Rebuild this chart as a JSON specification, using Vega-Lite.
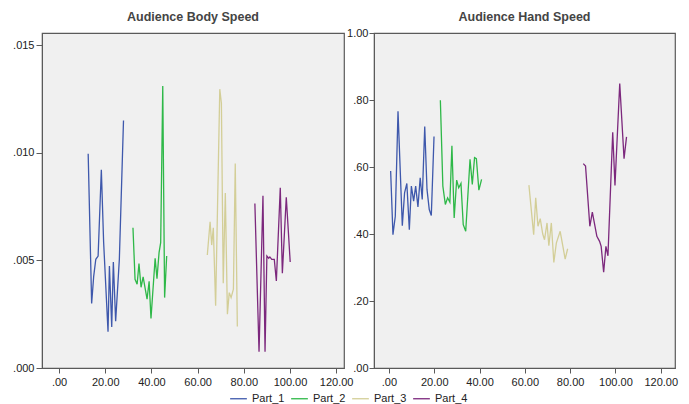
{
  "$schema": "https://vega.github.io/schema/vega-lite/v6.json",
  "padding": {"left": 3, "top": 9, "right": 5, "bottom": 0},
  "background": "white",
  "spacing": -9,
  "config": {
    "font": "Liberation Sans",
    "view": {"fill": "#f0f0f0", "stroke": "#5a5a5a", "strokeWidth": 1.2},
    "axis": {"grid": false, "labelFont": "Liberation Sans", "labelFontSize": 11, "labelColor": "#222", "domainColor": "#5a5a5a", "tickColor": "#5a5a5a", "title": null, "labelFlush": false, "labelOverlap": false},
    "title": {"font": "Liberation Sans", "fontSize": 12.5, "fontWeight": "bold", "color": "#444", "offset": 10},
    "line": {"strokeWidth": 1.3}
  },
  "data": {"values": [
    {"panel":"Body","part":"Part_1","t":12.6,"v":0.00995},
    {"panel":"Body","part":"Part_1","t":14.1,"v":0.0030},
    {"panel":"Body","part":"Part_1","t":15.0,"v":0.00427},
    {"panel":"Body","part":"Part_1","t":15.9,"v":0.00505},
    {"panel":"Body","part":"Part_1","t":16.9,"v":0.0052},
    {"panel":"Body","part":"Part_1","t":18.3,"v":0.00921},
    {"panel":"Body","part":"Part_1","t":19.3,"v":0.00583},
    {"panel":"Body","part":"Part_1","t":21.2,"v":0.00168},
    {"panel":"Body","part":"Part_1","t":21.8,"v":0.00474},
    {"panel":"Body","part":"Part_1","t":22.8,"v":0.0019},
    {"panel":"Body","part":"Part_1","t":23.5,"v":0.00492},
    {"panel":"Body","part":"Part_1","t":24.5,"v":0.00217},
    {"panel":"Body","part":"Part_1","t":26.1,"v":0.00505},
    {"panel":"Body","part":"Part_1","t":27.9,"v":0.0115},
    {"panel":"Body","part":"Part_2","t":32.0,"v":0.00651},
    {"panel":"Body","part":"Part_2","t":32.9,"v":0.00412},
    {"panel":"Body","part":"Part_2","t":33.8,"v":0.00389},
    {"panel":"Body","part":"Part_2","t":34.6,"v":0.00485},
    {"panel":"Body","part":"Part_2","t":35.5,"v":0.00375},
    {"panel":"Body","part":"Part_2","t":36.4,"v":0.00423},
    {"panel":"Body","part":"Part_2","t":37.2,"v":0.00375},
    {"panel":"Body","part":"Part_2","t":38.1,"v":0.0032},
    {"panel":"Body","part":"Part_2","t":39.0,"v":0.00403},
    {"panel":"Body","part":"Part_2","t":39.8,"v":0.0023},
    {"panel":"Body","part":"Part_2","t":41.6,"v":0.0051},
    {"panel":"Body","part":"Part_2","t":42.4,"v":0.00415},
    {"panel":"Body","part":"Part_2","t":43.3,"v":0.00536},
    {"panel":"Body","part":"Part_2","t":44.0,"v":0.00582},
    {"panel":"Body","part":"Part_2","t":44.9,"v":0.0131},
    {"panel":"Body","part":"Part_2","t":45.7,"v":0.00327},
    {"panel":"Body","part":"Part_2","t":46.6,"v":0.0052},
    {"panel":"Body","part":"Part_3","t":64.2,"v":0.00525},
    {"panel":"Body","part":"Part_3","t":65.4,"v":0.00679},
    {"panel":"Body","part":"Part_3","t":66.1,"v":0.00571},
    {"panel":"Body","part":"Part_3","t":66.8,"v":0.00651},
    {"panel":"Body","part":"Part_3","t":67.8,"v":0.00289},
    {"panel":"Body","part":"Part_3","t":69.6,"v":0.01295},
    {"panel":"Body","part":"Part_3","t":70.3,"v":0.0123},
    {"panel":"Body","part":"Part_3","t":71.1,"v":0.00394},
    {"panel":"Body","part":"Part_3","t":72.0,"v":0.00813},
    {"panel":"Body","part":"Part_3","t":72.9,"v":0.0025},
    {"panel":"Body","part":"Part_3","t":73.7,"v":0.0035},
    {"panel":"Body","part":"Part_3","t":74.5,"v":0.00327},
    {"panel":"Body","part":"Part_3","t":75.5,"v":0.00366},
    {"panel":"Body","part":"Part_3","t":76.3,"v":0.0095},
    {"panel":"Body","part":"Part_3","t":77.2,"v":0.00193},
    {"panel":"Body","part":"Part_4","t":84.8,"v":0.00764},
    {"panel":"Body","part":"Part_4","t":86.6,"v":0.00075},
    {"panel":"Body","part":"Part_4","t":88.3,"v":0.0080},
    {"panel":"Body","part":"Part_4","t":89.2,"v":0.00075},
    {"panel":"Body","part":"Part_4","t":90.0,"v":0.0052},
    {"panel":"Body","part":"Part_4","t":90.8,"v":0.0051},
    {"panel":"Body","part":"Part_4","t":91.3,"v":0.00516},
    {"panel":"Body","part":"Part_4","t":92.1,"v":0.00505},
    {"panel":"Body","part":"Part_4","t":93.2,"v":0.00505},
    {"panel":"Body","part":"Part_4","t":94.1,"v":0.00404},
    {"panel":"Body","part":"Part_4","t":95.8,"v":0.00837},
    {"panel":"Body","part":"Part_4","t":96.7,"v":0.0044},
    {"panel":"Body","part":"Part_4","t":98.4,"v":0.00793},
    {"panel":"Body","part":"Part_4","t":100.1,"v":0.00492},
    {"panel":"Hand","part":"Part_1","t":0.75,"v":0.588},
    {"panel":"Hand","part":"Part_1","t":1.77,"v":0.398},
    {"panel":"Hand","part":"Part_1","t":2.8,"v":0.453},
    {"panel":"Hand","part":"Part_1","t":4.0,"v":0.766},
    {"panel":"Hand","part":"Part_1","t":5.9,"v":0.425},
    {"panel":"Hand","part":"Part_1","t":6.9,"v":0.523},
    {"panel":"Hand","part":"Part_1","t":7.9,"v":0.551},
    {"panel":"Hand","part":"Part_1","t":9.0,"v":0.413},
    {"panel":"Hand","part":"Part_1","t":9.9,"v":0.543},
    {"panel":"Hand","part":"Part_1","t":10.9,"v":0.498},
    {"panel":"Hand","part":"Part_1","t":11.8,"v":0.543},
    {"panel":"Hand","part":"Part_1","t":12.8,"v":0.481},
    {"panel":"Hand","part":"Part_1","t":13.8,"v":0.568},
    {"panel":"Hand","part":"Part_1","t":14.7,"v":0.503},
    {"panel":"Hand","part":"Part_1","t":15.8,"v":0.721},
    {"panel":"Hand","part":"Part_1","t":16.8,"v":0.533},
    {"panel":"Hand","part":"Part_1","t":17.8,"v":0.473},
    {"panel":"Hand","part":"Part_1","t":18.7,"v":0.455},
    {"panel":"Hand","part":"Part_1","t":19.9,"v":0.691},
    {"panel":"Hand","part":"Part_2","t":22.7,"v":0.799},
    {"panel":"Hand","part":"Part_2","t":23.8,"v":0.543},
    {"panel":"Hand","part":"Part_2","t":24.9,"v":0.488},
    {"panel":"Hand","part":"Part_2","t":25.9,"v":0.508},
    {"panel":"Hand","part":"Part_2","t":26.9,"v":0.495},
    {"panel":"Hand","part":"Part_2","t":27.8,"v":0.663},
    {"panel":"Hand","part":"Part_2","t":28.8,"v":0.448},
    {"panel":"Hand","part":"Part_2","t":29.9,"v":0.561},
    {"panel":"Hand","part":"Part_2","t":30.8,"v":0.538},
    {"panel":"Hand","part":"Part_2","t":31.8,"v":0.551},
    {"panel":"Hand","part":"Part_2","t":32.8,"v":0.428},
    {"panel":"Hand","part":"Part_2","t":33.9,"v":0.408},
    {"panel":"Hand","part":"Part_2","t":35.8,"v":0.623},
    {"panel":"Hand","part":"Part_2","t":36.8,"v":0.548},
    {"panel":"Hand","part":"Part_2","t":37.8,"v":0.628},
    {"panel":"Hand","part":"Part_2","t":38.6,"v":0.625},
    {"panel":"Hand","part":"Part_2","t":39.7,"v":0.531},
    {"panel":"Hand","part":"Part_2","t":40.9,"v":0.563},
    {"panel":"Hand","part":"Part_3","t":61.8,"v":0.546},
    {"panel":"Hand","part":"Part_3","t":63.9,"v":0.398},
    {"panel":"Hand","part":"Part_3","t":64.8,"v":0.508},
    {"panel":"Hand","part":"Part_3","t":65.8,"v":0.423},
    {"panel":"Hand","part":"Part_3","t":66.8,"v":0.446},
    {"panel":"Hand","part":"Part_3","t":67.9,"v":0.400},
    {"panel":"Hand","part":"Part_3","t":68.7,"v":0.383},
    {"panel":"Hand","part":"Part_3","t":69.8,"v":0.433},
    {"panel":"Hand","part":"Part_3","t":70.6,"v":0.365},
    {"panel":"Hand","part":"Part_3","t":71.7,"v":0.433},
    {"panel":"Hand","part":"Part_3","t":72.8,"v":0.315},
    {"panel":"Hand","part":"Part_3","t":73.9,"v":0.373},
    {"panel":"Hand","part":"Part_3","t":75.6,"v":0.408},
    {"panel":"Hand","part":"Part_3","t":76.8,"v":0.363},
    {"panel":"Hand","part":"Part_3","t":77.8,"v":0.325},
    {"panel":"Hand","part":"Part_3","t":78.9,"v":0.356},
    {"panel":"Hand","part":"Part_4","t":85.8,"v":0.610},
    {"panel":"Hand","part":"Part_4","t":86.8,"v":0.603},
    {"panel":"Hand","part":"Part_4","t":88.7,"v":0.423},
    {"panel":"Hand","part":"Part_4","t":89.8,"v":0.465},
    {"panel":"Hand","part":"Part_4","t":91.8,"v":0.393},
    {"panel":"Hand","part":"Part_4","t":93.0,"v":0.378},
    {"panel":"Hand","part":"Part_4","t":93.7,"v":0.363},
    {"panel":"Hand","part":"Part_4","t":94.8,"v":0.286},
    {"panel":"Hand","part":"Part_4","t":95.8,"v":0.363},
    {"panel":"Hand","part":"Part_4","t":96.7,"v":0.335},
    {"panel":"Hand","part":"Part_4","t":98.8,"v":0.704},
    {"panel":"Hand","part":"Part_4","t":99.8,"v":0.545},
    {"panel":"Hand","part":"Part_4","t":101.9,"v":0.849},
    {"panel":"Hand","part":"Part_4","t":103.8,"v":0.625},
    {"panel":"Hand","part":"Part_4","t":104.9,"v":0.690}
  ]},
  "hconcat": [
    {
      "title": "Audience Body Speed",
      "width": 302,
      "height": 335,
      "transform": [{"filter": "datum.panel === 'Body'"}],
      "mark": {"type": "line", "clip": true},
      "encoding": {
        "x": {"field": "t", "type": "quantitative", "scale": {"domain": [-7.4, 123.4], "nice": false, "zero": false},
              "axis": {"values": [0, 20, 40, 60, 80, 100, 120], "tickSize": 5, "labelPadding": 3, "labelExpr": "datum.value == 0 ? '.00' : format(datum.value, '.2f')"}},
        "y": {"field": "v", "type": "quantitative", "scale": {"domain": [0, 0.01556], "nice": false},
              "axis": {"values": [0, 0.005, 0.01, 0.015], "tickSize": 6, "labelPadding": 2, "minExtent": 38, "maxExtent": 38, "labelExpr": "substring(format(datum.value, '.3f'), 1)"}},
        "color": {"field": "part", "type": "nominal",
                  "scale": {"domain": ["Part_1", "Part_2", "Part_3", "Part_4"], "range": ["#3e58ac", "#2eb848", "#d3ce97", "#7c287d"]},
                  "legend": {"title": null, "orient": "none", "legendX": 187, "legendY": 356, "direction": "horizontal", "symbolType": "stroke", "symbolSize": 280, "symbolStrokeWidth": 1.5, "labelFont": "Liberation Sans", "labelFontSize": 11, "labelColor": "#222", "labelOffset": 4, "columnPadding": 3}},
        "order": {"field": "t", "type": "quantitative"}
      }
    },
    {
      "title": {"text": "Audience Hand Speed", "offset": 4},
      "width": 301,
      "height": 335,
      "transform": [{"filter": "datum.panel === 'Hand'"}],
      "mark": {"type": "line", "clip": true},
      "encoding": {
        "x": {"field": "t", "type": "quantitative", "scale": {"domain": [-6.6, 126.3], "nice": false, "zero": false},
              "axis": {"values": [0, 20, 40, 60, 80, 100, 120], "tickSize": 5, "labelPadding": 3, "labelExpr": "datum.value == 0 ? '.00' : format(datum.value, '.2f')"}},
        "y": {"field": "v", "type": "quantitative", "scale": {"domain": [0, 1], "nice": false},
              "axis": {"values": [0, 0.2, 0.4, 0.6, 0.8, 1], "tickSize": 5, "labelPadding": 1, "minExtent": 28, "maxExtent": 28, "labelExpr": "datum.value >= 1 ? format(datum.value, '.2f') : substring(format(datum.value, '.2f'), 1)"}},
        "color": {"field": "part", "type": "nominal"},
        "order": {"field": "t", "type": "quantitative"}
      }
    }
  ]
}
